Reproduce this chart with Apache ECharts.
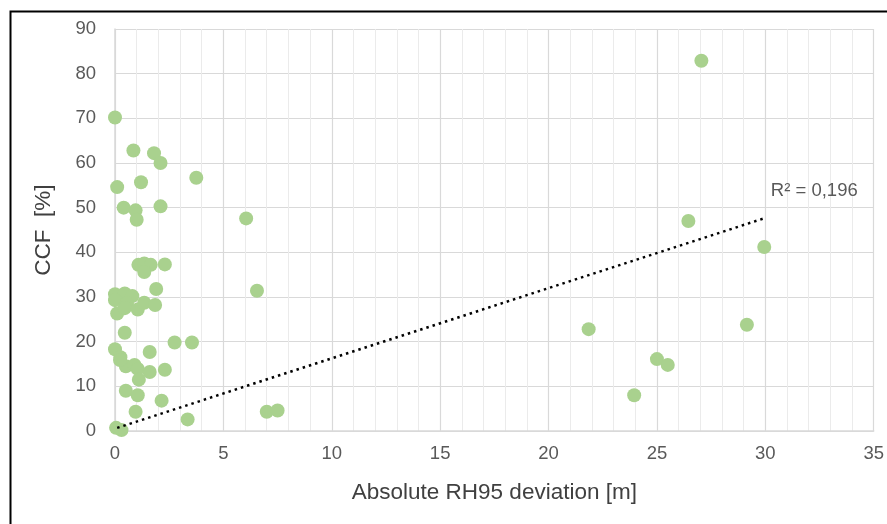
<!DOCTYPE html>
<html>
<head>
<meta charset="utf-8">
<script src="https://cdn.jsdelivr.net/npm/echarts@6/dist/echarts.min.js"></script>
<style>
  html, body { margin: 0; padding: 0; background: #fff; }
  #chart { width: 887px; height: 524px; }
</style>
</head>
<body>
<div id="chart"></div>
<script>
// Absolute RH95 deviation [m]
const xValues = [
  0.0, 0.85, 1.8, 2.1, 3.75, 0.1, 1.2, 0.4, 0.95, 1.0,
  2.1, 6.05, 1.08, 1.35, 1.65, 1.35, 2.3, 1.9, 6.55, 0.0,
  0.45, 0.8, 0.0, 0.55, 0.1, 0.45, 1.05, 1.35, 1.85, 0.45,
  2.75, 3.55, 0.0, 0.25, 1.6, 0.5, 0.9, 1.05, 1.6, 2.3,
  1.1, 0.5, 1.05, 2.15, 0.95, 3.35, 7.0, 7.5, 0.05, 0.3,
  0.23, 21.85, 23.95, 25.0, 25.5, 26.45, 27.05, 29.15, 29.95
];
// CCF [%]
const yValues = [
  70.2, 62.8, 62.2, 60.0, 56.7, 54.6, 55.7, 50.0, 49.4, 47.3,
  50.3, 47.6, 37.2, 37.5, 37.2, 35.6, 37.3, 31.8, 31.4, 30.6,
  30.8, 30.2, 29.3, 28.6, 26.3, 27.5, 27.2, 28.7, 28.2, 22.0,
  19.8, 19.8, 18.3, 16.5, 17.7, 14.5, 14.8, 13.9, 13.2, 13.7,
  11.5, 9.0, 8.0, 6.8, 4.3, 2.6, 4.3, 4.6, 0.7, 0.2,
  15.9, 22.8, 8.0, 16.1, 14.8, 47.0, 82.9, 23.8, 41.2
];
// linear trendline end points
const trendX = [0.1, 30.0];
const trendY = [0.7, 47.7];
const trendLabel = 'R\u00B2 = 0,196';

const xAxisTitle = 'Absolute RH95 deviation [m]';
const yAxisTitle = 'CCF  [%]';

const FONT = "'Liberation Sans', Arial, sans-serif";
const points = xValues.map((x, i) => [x, yValues[i]]);
const trend = trendX.map((x, i) => [x, trendY[i]]);

const chart = echarts.init(document.getElementById('chart'), null, { renderer: 'canvas' });
chart.setOption({
  animation: false,
  backgroundColor: '#ffffff',
  grid: { left: 115, right: 12, top: 29, bottom: 93, containLabel: false },
  xAxis: {
    type: 'value', min: 0, max: 35, interval: 5,
    name: xAxisTitle, nameLocation: 'middle', nameGap: 50,
    nameTextStyle: { color: '#404040', fontSize: 22.5, fontFamily: FONT },
    axisLine: { show: true, onZero: false, lineStyle: { color: '#d9d9d9', width: 1.5 } },
    axisTick: { show: false },
    axisLabel: { color: '#595959', fontSize: 18.5, fontFamily: FONT, margin: 13 },
    splitLine: { show: true, lineStyle: { color: '#d9d9d9', width: 1.2 } },
    minorTick: { show: false, splitNumber: 5 },
    minorSplitLine: { show: true, lineStyle: { color: '#ebebeb', width: 1 } }
  },
  yAxis: {
    type: 'value', min: 0, max: 90, interval: 10,
    name: yAxisTitle, nameLocation: 'middle', nameGap: 60, nameRotate: 90,
    nameTextStyle: { color: '#404040', fontSize: 22.5, fontFamily: FONT },
    axisLine: { show: true, lineStyle: { color: '#d9d9d9', width: 1.5 } },
    axisTick: { show: false },
    axisLabel: { color: '#595959', fontSize: 18.5, fontFamily: FONT, margin: 19 },
    splitLine: { show: true, lineStyle: { color: '#d9d9d9', width: 1.2 } }
  },
  series: [
    {
      type: 'scatter',
      data: points,
      symbol: 'circle',
      symbolSize: 14,
      itemStyle: { color: '#a9d18e', opacity: 1 },
      z: 2
    },
    {
      type: 'line',
      data: trend,
      symbol: 'none',
      lineStyle: { color: '#000000', width: 2.5, type: [2.5, 4] },
      z: 3,
      silent: true,
      markPoint: {
        symbol: 'circle',
        symbolSize: 1,
        itemStyle: { color: 'rgba(0,0,0,0)' },
        data: [{ coord: trend[trend.length - 1] }],
        label: {
          show: true, formatter: trendLabel, position: 'right', distance: 5,
          offset: [0, -27], color: '#595959', fontSize: 18.5, fontFamily: FONT
        }
      }
    }
  ],
  graphic: [
    {
      type: 'rect', left: 8, top: 9, silent: true,
      shape: { width: 900, height: 600 },
      style: { fill: 'none', stroke: '#000000', lineWidth: 2 }
    }
  ]
});
</script>
</body>
</html>
